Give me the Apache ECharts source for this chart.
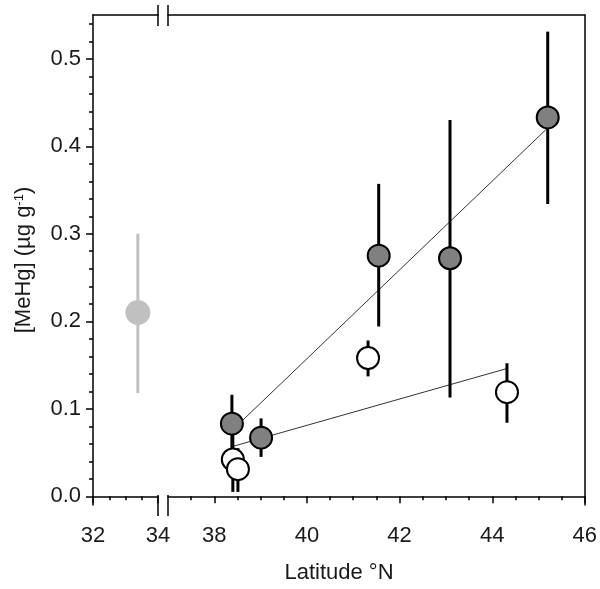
<!DOCTYPE html>
<html><head><meta charset="utf-8">
<script src="https://cdn.jsdelivr.net/npm/echarts@6/dist/echarts.min.js"></script>
<style>html,body{margin:0;padding:0;background:#fff}#c{width:600px;height:589px}</style>
</head><body><div id="c"></div>
<script>
// Reference site (left panel, light grey)
const refLat = [33.38];
const refMeHg = [0.210];
const refLow = [0.118];
const refHigh = [0.300];

// Dark grey filled circles
const fillLat = [38.38, 39.01, 41.55, 43.09, 45.20];
const fillMeHg = [0.083, 0.067, 0.275, 0.272, 0.433];
const fillLow = [0.050, 0.045, 0.194, 0.113, 0.334];
const fillHigh = [0.116, 0.089, 0.357, 0.430, 0.531];

// Open circles
const openLat = [38.40, 38.51, 41.32, 44.32];
const openMeHg = [0.042, 0.031, 0.158, 0.119];
const openLow = [0.005, 0.005, 0.137, 0.084];
const openHigh = [0.079, 0.055, 0.178, 0.152];

// Regression lines (end points)
const fillFitLat = [38.38, 45.20];
const fillFitMeHg = [0.075, 0.421];
const openFitLat = [38.40, 44.32];
const openFitMeHg = [0.057, 0.146];

// Axis ticks
const xTicksLeft = [32, 34];
const xMinorLeft = [32.5, 33, 33.5];
const xTicksRight = [38, 40, 42, 44, 46];
const xMinorRight = [37.5, 38.5, 39, 39.5, 40.5, 41, 41.5, 42.5, 43, 43.5, 44.5, 45, 45.5];
const yTicks = [0.0, 0.1, 0.2, 0.3, 0.4, 0.5];
const yMinor = [0.02, 0.04, 0.06, 0.08, 0.12, 0.14, 0.16, 0.18, 0.22, 0.24, 0.26, 0.28,
                0.32, 0.34, 0.36, 0.38, 0.42, 0.44, 0.46, 0.48, 0.52, 0.54];
const xRangeLeft = [32, 34];
const xRangeRight = [37, 46];
const yRange = [-0.01, 0.55];

const FONT = 'Liberation Sans, Arial, sans-serif';
const TXT = '#1a1a1a';
const AX = {color: '#000', width: 1.5};
const FS = 22;

const chart = echarts.init(document.getElementById('c'), null, {renderer: 'canvas'});

const L = {left: 93, width: 65, top: 15, height: 490};
const R = {left: 168, right: 15, top: 15, height: 490};

function lineOnly(extra) {
  return Object.assign({
    type: 'value', axisLine: {show: true, lineStyle: AX}, axisTick: {show: false},
    axisLabel: {show: false}, splitLine: {show: false}
  }, extra);
}
function hidden(extra) {
  return Object.assign({
    type: 'value', axisLine: {show: false}, axisTick: {show: false},
    axisLabel: {show: false}, splitLine: {show: false}
  }, extra);
}
const lbl = {color: TXT, fontFamily: FONT, fontSize: FS};

const pair = (a, b, c) => a.map((v, i) => c ? [v, b[i], c[i]] : [v, b[i]]);

function errBar(color) {
  return function (params, api) {
    const p1 = api.coord([api.value(0), api.value(1)]);
    const p2 = api.coord([api.value(0), api.value(2)]);
    return {type: 'line', shape: {x1: p1[0], y1: p1[1], x2: p2[0], y2: p2[1]},
      style: {stroke: color, lineWidth: 3}};
  };
}

const option = {
  backgroundColor: '#fff',
  animation: false,
  grid: [
    Object.assign({}, L),            // 0 left main
    Object.assign({}, L),            // 1 left copy (minor ticks)
    Object.assign({}, R),            // 2 right main
    Object.assign({}, R),            // 3 right copy (major x ticks)
    {left: 93, right: 15, top: 15, height: 490} // 4 full width for x name
  ],
  xAxis: [
    {type: 'value', gridIndex: 0, position: 'bottom', min: xRangeLeft[0], max: xRangeLeft[1],
      axisLine: {show: true, lineStyle: AX},
      axisTick: {show: true, customValues: xTicksLeft, length: 7, lineStyle: AX},
      axisLabel: {show: true, customValues: xTicksLeft, margin: 20, ...lbl},
      splitLine: {show: false}},
    lineOnly({gridIndex: 0, position: 'top', min: xRangeLeft[0], max: xRangeLeft[1]}),
    hidden({gridIndex: 1, position: 'bottom', min: xRangeLeft[0], max: xRangeLeft[1],
      axisTick: {show: true, customValues: xMinorLeft, length: 4, lineStyle: AX}}),
    {type: 'value', gridIndex: 2, position: 'bottom', min: xRangeRight[0], max: xRangeRight[1],
      axisLine: {show: true, lineStyle: AX},
      axisTick: {show: true, customValues: xMinorRight, length: 4, lineStyle: AX},
      axisLabel: {show: true, customValues: xTicksRight, margin: 20, ...lbl},
      splitLine: {show: false}},
    lineOnly({gridIndex: 2, position: 'top', min: xRangeRight[0], max: xRangeRight[1]}),
    hidden({gridIndex: 3, position: 'bottom', min: xRangeRight[0], max: xRangeRight[1],
      axisTick: {show: true, customValues: xTicksRight, length: 7, lineStyle: AX}}),
    hidden({gridIndex: 4, position: 'bottom', min: 0, max: 1,
      name: 'Latitude °N', nameLocation: 'middle', nameGap: 67,
      nameTextStyle: {color: TXT, fontFamily: FONT, fontSize: FS}})
  ],
  yAxis: [
    {type: 'value', gridIndex: 0, position: 'left', min: yRange[0], max: yRange[1],
      axisLine: {show: true, lineStyle: AX},
      axisTick: {show: true, customValues: yTicks, length: 7, lineStyle: AX},
      axisLabel: {show: true, customValues: yTicks, margin: 12, ...lbl,
        formatter: v => v.toFixed(1)},
      splitLine: {show: false},
      name: '[MeHg] (µg g{sup|-1})', nameLocation: 'middle', nameGap: 58,
      nameTextStyle: {color: TXT, fontFamily: FONT, fontSize: FS,
        rich: {sup: {fontSize: 13, verticalAlign: 'top', lineHeight: 13, color: TXT, fontFamily: FONT}}}},
    hidden({gridIndex: 1, position: 'left', min: yRange[0], max: yRange[1],
      axisTick: {show: true, customValues: yMinor, length: 4, lineStyle: AX}}),
    lineOnly({gridIndex: 2, position: 'right', min: yRange[0], max: yRange[1]}),
    hidden({gridIndex: 3, min: yRange[0], max: yRange[1]}),
    hidden({gridIndex: 4, min: 0, max: 1})
  ],
  series: [
    {type: 'custom', xAxisIndex: 0, yAxisIndex: 0, renderItem: errBar('#c0c0c0'),
      data: pair(refLat, refLow, refHigh), encode: {x: 0, y: [1, 2]}, z: 3, silent: true},
    {type: 'scatter', xAxisIndex: 0, yAxisIndex: 0, data: pair(refLat, refMeHg),
      symbol: 'circle', symbolSize: 25, itemStyle: {color: '#c0c0c0', opacity: 1}, z: 4, silent: true},
    {type: 'line', xAxisIndex: 3, yAxisIndex: 2, data: pair(fillFitLat, fillFitMeHg),
      symbol: 'none', lineStyle: {color: '#333', width: 1}, z: 2, silent: true},
    {type: 'line', xAxisIndex: 3, yAxisIndex: 2, data: pair(openFitLat, openFitMeHg),
      symbol: 'none', lineStyle: {color: '#333', width: 1}, z: 2, silent: true},
    {type: 'custom', xAxisIndex: 3, yAxisIndex: 2, renderItem: errBar('#000'),
      data: pair(fillLat, fillLow, fillHigh), encode: {x: 0, y: [1, 2]}, z: 3, silent: true},
    {type: 'custom', xAxisIndex: 3, yAxisIndex: 2, renderItem: errBar('#000'),
      data: pair(openLat, openLow, openHigh), encode: {x: 0, y: [1, 2]}, z: 3, silent: true},
    {type: 'scatter', xAxisIndex: 3, yAxisIndex: 2, data: pair(fillLat, fillMeHg),
      symbol: 'circle', symbolSize: 22,
      itemStyle: {color: '#808080', borderColor: '#000', borderWidth: 2, opacity: 1}, z: 4, silent: true},
    {type: 'scatter', xAxisIndex: 3, yAxisIndex: 2, data: pair(openLat, openMeHg),
      symbol: 'circle', symbolSize: 22,
      itemStyle: {color: '#fff', borderColor: '#000', borderWidth: 2, opacity: 1}, z: 5, silent: true}
  ]
};
chart.setOption(option);

// Axis break marks at the gap between the two panels
const xa = chart.convertToPixel({xAxisIndex: 0}, xRangeLeft[1]);
const xb = chart.convertToPixel({xAxisIndex: 3}, xRangeRight[0]);
const yTop = chart.convertToPixel({yAxisIndex: 0}, yRange[1]);
const yBot = chart.convertToPixel({yAxisIndex: 0}, yRange[0]);
const marks = [];
[xa, xb].forEach(x => [yTop, yBot].forEach(y => {
  marks.push({type: 'line', shape: {x1: x, y1: y - 10, x2: x, y2: y + 11},
    style: {stroke: '#000', lineWidth: 1.5}, z: 10});
}));
chart.setOption({graphic: marks});
</script>
</body></html>
